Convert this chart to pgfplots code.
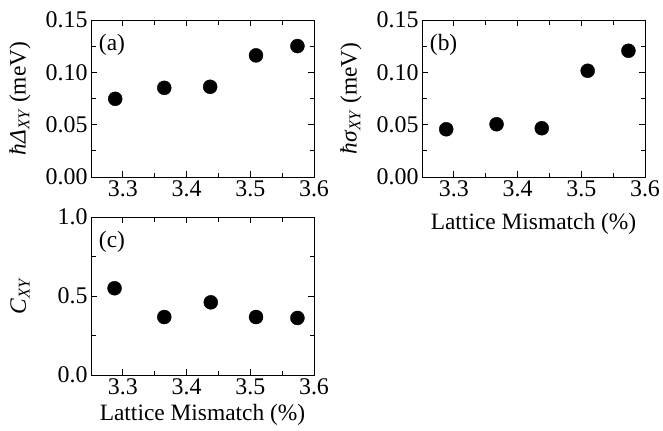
\documentclass[border=0pt]{standalone}
\usepackage{fontspec}
\setmainfont{Liberation Serif}
\usepackage{pgfplots}
\pgfplotsset{compat=1.18}
\pgfplotsset{
  panel/.style={
    width=223bp, height=157bp, scale only axis,
    xmin=3.25, xmax=3.6,
    xtick={3.3,3.4,3.5,3.6}, minor x tick num=1,
    tick align=inside, xtick pos=both, ytick pos=both,
    major tick length=6bp, minor tick length=4.5bp,
    every tick/.style={black, line width=0.9bp},
    axis line style={line width=1bp},
    /pgf/number format/assume math mode=true,
    tick label style={font=\fontsize{24}{28}\selectfont},
    label style={font=\fontsize{23.5}{28}\selectfont},
    xticklabel style={/pgf/number format/fixed, /pgf/number format/fixed zerofill, /pgf/number format/precision=1},
    ylabel style={at={(axis description cs:-0.318,0.5)}, anchor=center},
    only marks, clip=false,
  },
  dots/.style={mark=*, mark size=7bp, black, mark options={fill=black, draw=black}},
}
\begin{document}
\begin{tikzpicture}
\useasboundingbox (0,0) rectangle (663bp,-431bp);
% (a)
\begin{axis}[panel, at={(91bp,-177bp)}, anchor=south west,
  ymin=0, ymax=0.15, ytick={0,0.05,0.10,0.15}, minor y tick num=1,
  yticklabel style={/pgf/number format/fixed, /pgf/number format/fixed zerofill, /pgf/number format/precision=2},
  ylabel={\textit{ħΔ}\textsubscript{\textit{XY}} (meV)}]
\addplot[dots] coordinates {(3.288,0.0747) (3.365,0.0852) (3.437,0.0862) (3.509,0.1162) (3.574,0.1251)};
\node[anchor=west, font=\fontsize{23.5}{28}\selectfont] at (rel axis cs:0.02,0.84) {(a)};
\end{axis}
% (b)
\begin{axis}[panel, at={(422bp,-177bp)}, anchor=south west,
  ymin=0, ymax=0.15, ytick={0,0.05,0.10,0.15}, minor y tick num=1,
  yticklabel style={/pgf/number format/fixed, /pgf/number format/fixed zerofill, /pgf/number format/precision=2},
  ylabel={\textit{ħσ}\textsubscript{\textit{XY}} (meV)},
  xlabel={Lattice Mismatch (\%)},
  xlabel style={at={(axis description cs:0.5,-0.30)}, anchor=center}]
\addplot[dots] coordinates {(3.288,0.0456) (3.367,0.0504) (3.438,0.0466) (3.510,0.1015) (3.574,0.1206)};
\node[anchor=west, font=\fontsize{23.5}{28}\selectfont] at (rel axis cs:0.02,0.84) {(b)};
\end{axis}
% (c)
\begin{axis}[panel, at={(91bp,-375bp)}, anchor=south west, height=158bp,
  ymin=0, ymax=1, ytick={0,0.5,1}, minor y tick num=1,
  yticklabel style={/pgf/number format/fixed, /pgf/number format/fixed zerofill, /pgf/number format/precision=1},
  ylabel={\textit{C}\textsubscript{\textit{XY}}},
  xlabel={Lattice Mismatch (\%)},
  xlabel style={at={(axis description cs:0.5,-0.255)}, anchor=center}]
\addplot[dots] coordinates {(3.287,0.549) (3.365,0.367) (3.438,0.460) (3.509,0.367) (3.574,0.361)};
\node[anchor=west, font=\fontsize{23.5}{28}\selectfont] at (rel axis cs:0.02,0.84) {(c)};
\end{axis}
\end{tikzpicture}
\end{document}
